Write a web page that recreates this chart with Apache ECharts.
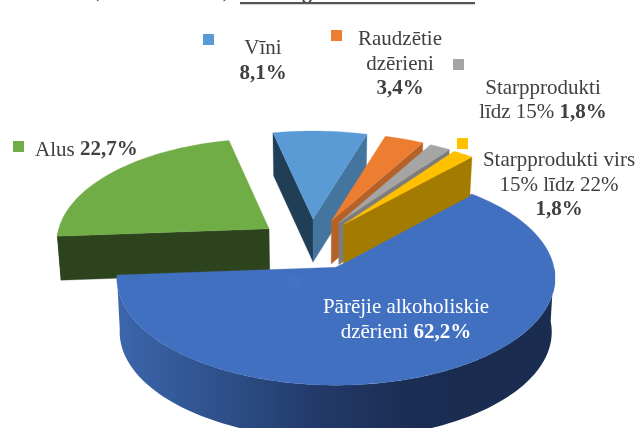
<!DOCTYPE html>
<html>
<head>
<meta charset="utf-8">
<style>
  html, body { margin: 0; padding: 0; background: #fff; }
  #chart { width: 639px; height: 428px; }
</style>
</head>
<body>
<div id="chart"></div>
<script src="https://cdn.jsdelivr.net/npm/echarts@6/dist/echarts.min.js"></script>
<script>
// dati
const categories = ["Vīni", "Raudzētie dzērieni", "Starpprodukti līdz 15%", "Starpprodukti virs 15% līdz 22%", "Pārējie alkoholiskie dzērieni", "Alus"];
const shares = [8.1, 3.4, 1.8, 1.8, 62.2, 22.7];

// krāsas
const topColors = ["#5b9bd5", "#ed7d31", "#a5a5a5", "#ffc000", "#4270c1", "#70ad47"];
const startWallColors = ["#203e56", "#b4622a", "#7c7c7c", "#a37b00", "#2c431e", "#2c431e"];
const endWallColors = ["#44759f", "#b4622a", "#7c7c7c", "#a37b00", "#2c431e", "#2c431e"];
const markerColors = ["#5b9bd5", "#ed7d31", "#a5a5a5", "#ffc000", "#4472c4", "#70ad47"];

// izkārtojums: pīrāga forma un perspektīva
const centerX = 311;
const centerY = 243.5;
const radiusX = 218;
const radiusY = 102;
const firstAngle = -12.4; // grādi no augšas pulksteņrādītāja virzienā
const explode = [0.24, 0.24, 0.24, 0.24, 0.26, 0.24];
const sizeX = [0.965, 0.965, 0.965, 0.965, 1, 0.965];
const sizeY = [0.975, 0.975, 0.975, 0.975, 1.04, 1];
const perspective = [0.13, 0.13, 0.13, 0.13, 0.1, 0.13];
const depth = [43, 43, 42, 39, 54, 44];
const bottomTaper = 0.014;
const drawOrder = [5, 4, 0, 1, 2, 3];

const TEXT = "#404040";
const FONT = '"Liberation Serif", "Times New Roman", serif';
const FONT_SIZE = 21;

const fmt = v => v.toFixed(1).replace(".", ",") + "%";
const rad = d => (d * Math.PI) / 180;

// leņķi no vērtībām
const total = shares.reduce((a, b) => a + b, 0);
const angles = [];
let acc = firstAngle;
shares.forEach(v => {
  const span = (v / total) * 360;
  angles.push([acc, acc + span]);
  acc += span;
});

function apexOf(i) {
  const mid = rad((angles[i][0] + angles[i][1]) / 2);
  return [
    centerX + explode[i] * radiusX * Math.sin(mid),
    centerY - explode[i] * radiusY * Math.cos(mid),
  ];
}

function rimPoint(i, deg) {
  const a = rad(deg);
  const u = Math.sin(a);
  const v = -Math.cos(a);
  const s = 1 / (1 - perspective[i] * v);
  const apex = apexOf(i);
  return [apex[0] + radiusX * sizeX[i] * u * s, apex[1] + radiusY * sizeY[i] * v * s];
}

function lower(p, h) {
  return [p[0] + (centerX + 10 - p[0]) * bottomTaper, p[1] + h];
}

function arcPoints(i, from, to) {
  const pts = [];
  const n = Math.max(2, Math.ceil(Math.abs(to - from) / 1.5));
  for (let k = 0; k <= n; k++) {
    pts.push(rimPoint(i, from + ((to - from) * k) / n));
  }
  return pts;
}

function polygon(points, fill) {
  return {
    type: "polygon",
    shape: { points: points },
    style: { fill: fill, stroke: fill, lineWidth: 0.3 },
  };
}

function renderSlice(params, api) {
  const i = api.value(0);
  const [a0, a1] = angles[i];
  const h = depth[i];
  const apex = apexOf(i);
  const children = [];

  // sānu sienas, kas vērstas pret skatītāju
  if (-Math.sin(rad(a0)) > 0) {
    const rim = rimPoint(i, a0);
    children.push(polygon([apex, rim, lower(rim, h), lower(apex, h)], startWallColors[i]));
  }
  if (Math.sin(rad(a1)) > 0) {
    const rim = rimPoint(i, a1);
    children.push(polygon([apex, rim, lower(rim, h), lower(apex, h)], endWallColors[i]));
  }

  // ārējā siena
  const from = Math.max(a0, 90);
  const to = Math.min(a1, 270);
  if (to > from) {
    const arc = arcPoints(i, from, to);
    const wall = arc.concat(arc.slice().reverse().map(p => lower(p, h)));
    const isLarge = to - from > 90;
    children.push({
      type: "polygon",
      shape: { points: wall },
      style: {
        fill: isLarge
          ? new echarts.graphic.LinearGradient(1, 0, 0, 0, [
              { offset: 0, color: "#1a2c4f" },
              { offset: 0.32, color: "#1a2d52" },
              { offset: 0.55, color: "#233a6a" },
              { offset: 0.8, color: "#30548f" },
              { offset: 1, color: "#3c66ac" },
            ])
          : startWallColors[i],
      },
    });
  }

  // virsma
  children.push(polygon([apex].concat(arcPoints(i, a0, a1)), topColors[i]));
  return { type: "group", children: children };
}

const rich = {
  n: { fontFamily: FONT, fontSize: FONT_SIZE, lineHeight: 24.5, fill: TEXT, color: TEXT },
  b: { fontFamily: FONT, fontSize: FONT_SIZE, lineHeight: 24.5, fontWeight: "bold", fill: TEXT, color: TEXT },
  w: { fontFamily: FONT, fontSize: FONT_SIZE, lineHeight: 25, fill: "#fff", color: "#fff" },
  wb: { fontFamily: FONT, fontSize: FONT_SIZE, lineHeight: 25, fontWeight: "bold", fill: "#fff", color: "#fff" },
};

function label(x, y, text, align) {
  return {
    type: "text",
    x: x,
    y: y,
    z: 10,
    style: {
      text: text,
      rich: rich,
      align: align || "center",
      verticalAlign: "middle",
      fontFamily: FONT,
      fontSize: FONT_SIZE,
    },
  };
}

function marker(x, y, color) {
  return { type: "rect", z: 10, shape: { x: x, y: y, width: 11, height: 11 }, style: { fill: color } };
}

const graphics = [
  // nogrieztais virsraksts attēla augšā
  { type: "text", x: 96, y: -8, style: { text: "(", fontFamily: FONT, fontSize: 20, fill: TEXT, align: "center", verticalAlign: "middle" } },
  { type: "text", x: 226, y: -8, style: { text: ")", fontFamily: FONT, fontSize: 20, fill: TEXT, align: "center", verticalAlign: "middle" } },
  { type: "text", x: 307, y: -7, style: { text: "g", fontFamily: FONT, fontSize: 20, fontWeight: "bold", fill: TEXT, align: "center", verticalAlign: "middle" } },
  { type: "rect", shape: { x: 240, y: 2, width: 235, height: 2.2 }, style: { fill: "#555" } },

  marker(203, 34, markerColors[0]),
  marker(331, 30, markerColors[1]),
  marker(453, 59, markerColors[2]),
  marker(457, 138, markerColors[3]),
  marker(13, 141, markerColors[5]),
  marker(289, 277, markerColors[4]),

  label(263, 61, `{n|Vīni}\n{b|${fmt(shares[0])}}`),
  label(400, 64, `{n|Raudzētie}\n{n|dzērieni}\n{b|${fmt(shares[1])}}`),
  label(543, 100.5, `{n|Starpprodukti}\n{n|līdz 15% }{b|${fmt(shares[2])}}`),
  label(559, 185, `{n|Starpprodukti virs}\n{n|15% līdz 22%}\n{b|${fmt(shares[3])}}`),
  label(35, 150, `{n|Alus }{b|${fmt(shares[5])}}`, "left"),
  label(406, 320, `{w|Pārējie alkoholiskie}\n{w|dzērieni }{wb|${fmt(shares[4])}}`),
];

const chart = echarts.init(document.getElementById("chart"), null, { renderer: "canvas" });
chart.setOption({
  animation: false,
  backgroundColor: "#fff",
  graphic: graphics,
  series: [
    {
      type: "custom",
      coordinateSystem: "none",
      renderItem: renderSlice,
      silent: true,
      dimensions: ["index", "share", "name"],
      data: drawOrder.map(i => [i, shares[i], categories[i]]),
    },
  ],
});
</script>
</body>
</html>
